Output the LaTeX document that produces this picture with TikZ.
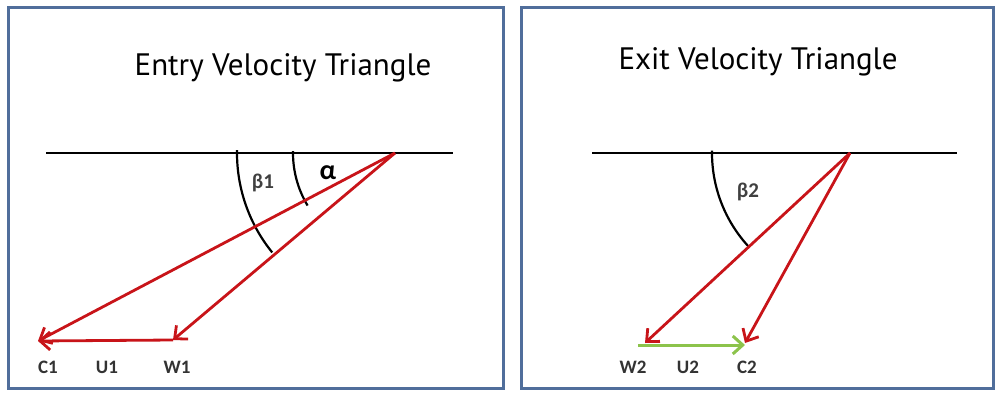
\documentclass[tikz,border=0pt]{standalone}
\usepackage{fontspec}
\setmainfont{PT Sans}
\newfontfamily\lblfont{Carlito}
\usetikzlibrary{arrows.meta, positioning, calc}
\definecolor{vred}{RGB}{200,20,25}
\definecolor{vgreen}{RGB}{140,195,75}
\definecolor{panel}{RGB}{80,110,155}

\begin{document}
\begin{tikzpicture}[x=1pt, y=1pt, >={Straight Barb[length=10pt, width=18pt]},
    frame/.style={draw=panel, line width=3pt},
    base/.style={draw, line width=2.2pt},
    vec/.style={->, draw=vred, line width=2.8pt},
    uvec/.style={->, draw=vgreen, line width=3pt},
    angarc/.style={draw, line width=2.2pt},
    lbl/.style={font=\lblfont\bfseries\fontsize{19}{22}\selectfont, text=black!80},
    ang/.style={font=\lblfont\bfseries\fontsize{21}{24}\selectfont, text=black!75},
    title/.style={font=\fontsize{31}{36}\selectfont}]
    \useasboundingbox (0,0) rectangle (995,392);
    % panels
    \draw[frame] (8,4) rectangle (503,384);
    \draw[frame] (521,4) rectangle (993,384);

    % entry triangle
    \node[title] (t1) at (283,324) {Entry Velocity Triangle};
    \coordinate (o1) at (395,239);
    \coordinate (c1) at (38,51);
    \coordinate (w1) at (173,52);
    \draw[base] (46,239) -- (453,239);
    \draw[angarc] (o1) ++(179:158) arc[start angle=179, end angle=219, radius=158];
    \draw[angarc] (o1) ++(179:102) arc[start angle=179, end angle=211, radius=102];
    \draw[vec] (o1) -- (c1);
    \draw[vec] (o1) -- (w1);
    \draw[vec] (w1) -- (c1);
    \node[ang] (b1) at (263,209) {β1};
    \node[font=\lblfont\bfseries\fontsize{28}{30}\selectfont] (a1) at (328,219) {α};
    \node[lbl] (c1l) at (48,25) {C1};
    \node[lbl] (u1l) at (107,25) {U1};
    \node[lbl] (w1l) at (177,25) {W1};

    % exit triangle
    \node[title] (t2) at (758,330) {Exit Velocity Triangle};
    \coordinate (o2) at (850,239);
    \coordinate (w2) at (645,49);
    \coordinate (c2) at (745,49);
    \coordinate (u2) at (638,47);
    \draw[base] (592,239) -- (957,239);
    \draw[angarc] (o2) ++(179:138) arc[start angle=179, end angle=223, radius=138];
    \draw[uvec] (u2) -- (c2|-u2);
    \draw[vec] (o2) -- (w2);
    \draw[vec] (o2) -- (c2);
    \node[ang] (b2) at (748,200) {β2};
    \node[lbl] (w2l) at (633,25) {W2};
    \node[lbl] (u2l) at (688,25) {U2};
    \node[lbl] (c2l) at (747,25) {C2};
\end{tikzpicture}
\end{document}
